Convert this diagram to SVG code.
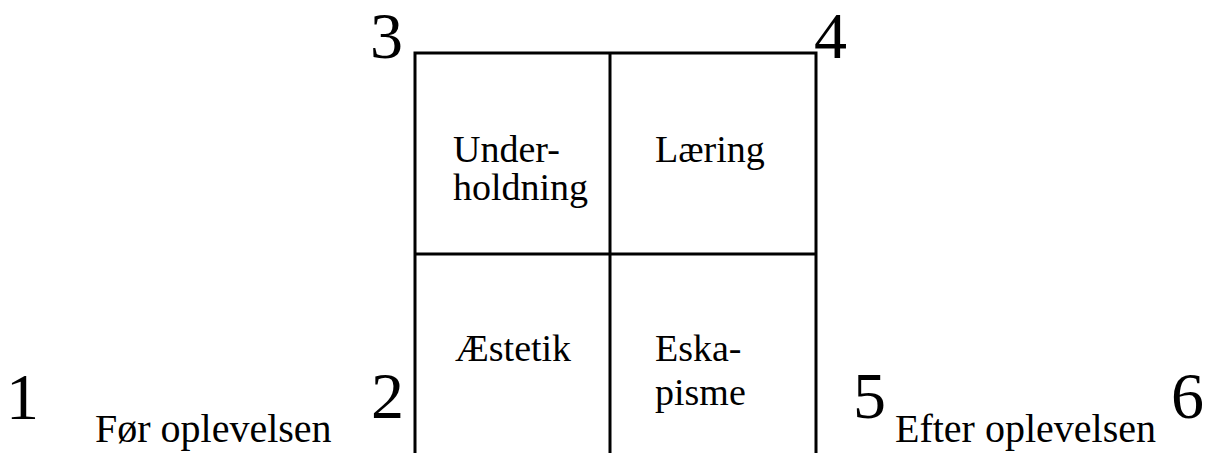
<svg xmlns="http://www.w3.org/2000/svg" width="1208" height="453" viewBox="0 0 1208 453">
<style>
.ln{stroke:#000;stroke-width:3;fill:none}
.num{font-family:'Liberation Serif','Times New Roman','DejaVu Serif',serif;font-size:66px;fill:#000}
.lbl{font-family:'Liberation Serif','Times New Roman','DejaVu Serif',serif;font-size:38px;fill:#000}
.side{font-family:'Liberation Serif','Times New Roman','DejaVu Serif',serif;font-size:40px;fill:#000}
</style>
<rect width="1208" height="453" fill="#fff"/>
<g id="connectors">
<path class="ln" d="M415,460 V53 H816 V460"/>
<path class="ln" d="M610,53 V460"/>
<path class="ln" d="M415,254 H816"/>
</g>
<g id="cell-underholdning"><text class="lbl" x="453" y="162">Under-</text><text class="lbl" x="453" y="200">holdning</text></g>
<g id="cell-laering"><text class="lbl" x="655" y="162">Læring</text></g>
<g id="cell-aestetik"><text class="lbl" x="455" y="361">Æstetik</text></g>
<g id="cell-eskapisme"><text class="lbl" x="655" y="361">Eska-</text><text class="lbl" x="655" y="405">pisme</text></g>
<g id="n1"><text class="num" x="6" y="419">1</text></g>
<g id="n2"><text class="num" x="371" y="418">2</text></g>
<g id="n3"><text class="num" x="370" y="58">3</text></g>
<g id="n4"><text class="num" x="814" y="58">4</text></g>
<g id="n5"><text class="num" x="853" y="418">5</text></g>
<g id="n6"><text class="num" x="1171" y="418">6</text></g>
<g id="before"><text class="side" x="95" y="442">Før oplevelsen</text></g>
<g id="after"><text class="side" x="895" y="442">Efter oplevelsen</text></g>
</svg>
